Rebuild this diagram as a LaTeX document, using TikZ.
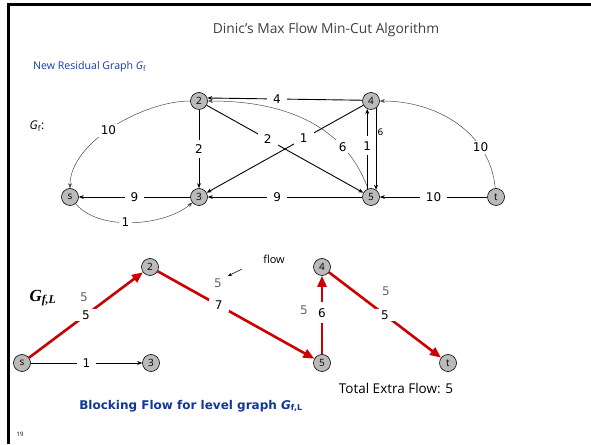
\documentclass[tikz,border=0pt]{standalone}
\usepackage{fontspec}
\setmainfont{Open Sans}
\newfontfamily\numfont{DejaVu Sans}
\newfontfamily\serfont{Liberation Serif}
\usetikzlibrary{arrows.meta}
\definecolor{rd}{RGB}{204,0,0}
\definecolor{bl}{RGB}{20,60,170}
\definecolor{ttl}{RGB}{64,64,64}
\begin{document}
\begin{tikzpicture}[x=1pt,y=1pt,
  vtx/.style={circle,draw,line width=0.6pt,fill=black!27,minimum size=17pt,inner sep=0pt,font=\fontsize{10}{10}\selectfont},
  edge/.style={draw,line width=0.9pt,-{Stealth[length=5pt,width=4pt]}},
  cedge/.style={draw=black!70,line width=0.5pt,-{Stealth[length=5pt,width=4pt]}},
  lab/.style={fill=white,inner xsep=6pt,inner ysep=2pt,font=\numfont\fontsize{12}{12}\selectfont},
  redge/.style={draw=rd,line width=2.6pt,-{Triangle[length=11pt,width=9pt]}},
  glab/.style={text=black!60,font=\numfont\fontsize{12}{12}\selectfont},
]
\useasboundingbox (0,0) rectangle (591,444);
\fill[white] (0,0) rectangle (591,444);
\draw[line width=3pt] (8.7,0) -- (8.7,439) -- (591,439);

% header
\node[text=ttl,font=\fontsize{13.8}{14}\selectfont] (title) at (326,414) {Dinic's Max Flow Min-Cut Algorithm};
\node[text=bl,anchor=west,font=\fontsize{10.6}{11}\selectfont,inner sep=0pt] (nrg) at (33,377) {New Residual Graph \textit{G}\textsubscript{f}};

% upper graph
\node[font=\fontsize{12}{12}\selectfont] (gf) at (37,318) {\textit{G}\textsubscript{f}:};
\node[vtx] (u2) at (199,343) {2};
\node[vtx] (u4) at (371,343) {4};
\node[vtx] (us) at (70,247) {s};
\node[vtx] (u3) at (199,247) {3};
\node[vtx] (u5) at (371,247) {5};
\node[vtx] (ut) at (496,247) {t};

\draw[edge] (u4.175) -- node[lab,pos=0.55] {4} (u2.20);
\draw[cedge] (u5.110) to[out=110,in=0] node[lab,pos=0.25,inner xsep=3pt] {6} (u2.east);
\draw[cedge] (u2.west) to[out=180,in=90,looseness=0.8] node[lab,pos=0.53,inner xsep=3pt] {10} (us.north);
\draw[edge] (u2) -- node[lab,inner xsep=2pt,inner ysep=5pt] {2} (u3);
\draw[edge] (u2) -- node[lab,pos=0.39] {2} (u5);
\draw[edge] (u4) -- node[lab,pos=0.38] {1} (u3);
\draw[edge] (u5.115) -- node[lab,pos=0.54,inner xsep=1pt,inner ysep=5pt] {1} (u4.-115);
\draw[edge] (u4.-55) -- node[right,pos=0.3,inner sep=1pt,font=\numfont\fontsize{9}{9}\selectfont] {6} (u5.55);
\draw[edge] (u3) -- node[lab] {9} (us);
\draw[cedge] (us.-50) to[out=-50,in=-140,looseness=0.8] node[lab,pos=0.45,inner xsep=3pt,inner ysep=1pt] {1} (u3.-140);
\draw[edge] (u5) -- node[lab,pos=0.55] {9} (u3);
\draw[edge] (ut) -- node[lab,pos=0.5] {10} (u5);
\draw[cedge] (ut.95) to[out=95,in=0] node[lab,pos=0.28,inner xsep=3pt] {10} (u4.east);

% lower graph
\node[font=\serfont\bfseries\itshape\fontsize{17}{17}\selectfont] (gfl) at (43,146) {G\textsubscript{f,L}};
\node[vtx] (ls) at (22,81) {s};
\node[vtx] (l2) at (150,177) {2};
\node[vtx] (l3) at (151,81) {3};
\node[vtx] (l4) at (322,177) {4};
\node[vtx] (l5) at (322,81) {5};
\node[vtx] (lt) at (448,81) {t};

\draw[redge] (ls) -- node[lab,pos=0.5] {5} (l2);
\draw[redge] (l2) -- node[lab,pos=0.39] {7} (l5);
\draw[redge] (l5) -- node[lab,pos=0.53,inner xsep=1pt,inner ysep=6pt] {6} (l4);
\draw[redge] (l4) -- node[lab,pos=0.5] {5} (lt);
\draw[edge,line width=0.7pt] (ls) -- node[lab,pos=0.5] {1} (l3);

\node[glab] (g1) at (84,147) {5};
\node[glab] (g2) at (218,161) {5};
\node[glab] (g3) at (304,134) {5};
\node[glab] (g4) at (386,153) {5};

\node[font=\fontsize{11}{11}\selectfont] (flow) at (274,185) {flow};
\coordinate (fa) at (242,175);
\coordinate (fb) at (228,168);
\draw[line width=0.5pt,-{Stealth[length=4pt,width=3pt]}] (fa) -- (fb);

\node[font=\fontsize{13.5}{14}\selectfont] (tef) at (396,56) {Total Extra Flow: 5};
\node[text=bl!90!black,font=\numfont\bfseries\fontsize{12}{12}\selectfont] (bfl) at (191,38) {Blocking Flow for level graph \textit{G}\textsubscript{f,L}};
\node[font=\fontsize{6}{6}\selectfont] (pg) at (20,10) {19};
\end{tikzpicture}
\end{document}
